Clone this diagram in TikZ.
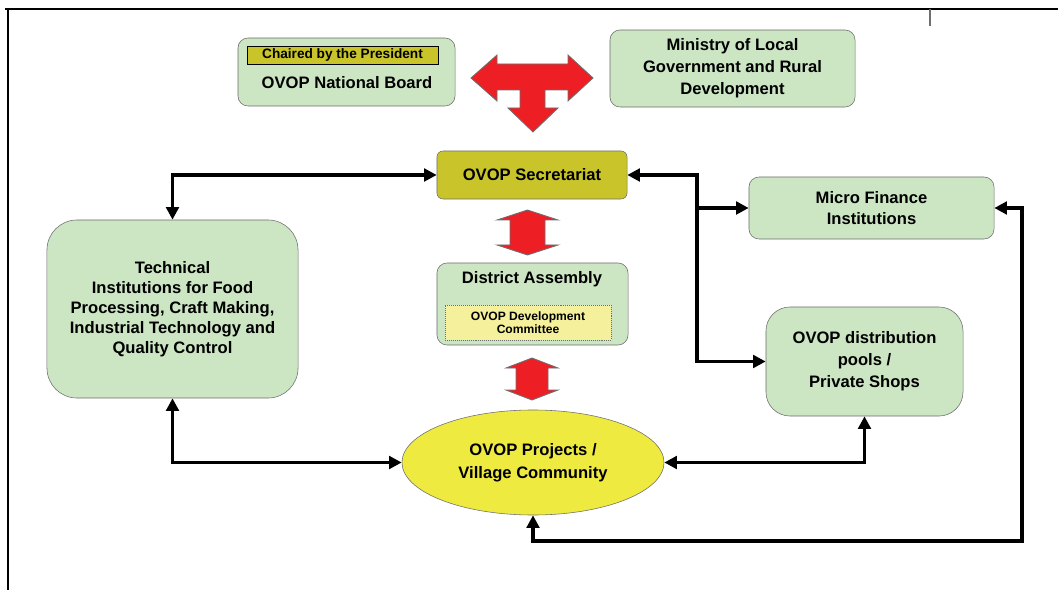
\documentclass[tikz,border=0pt]{standalone}
\usepackage{fontspec}
\setmainfont{Liberation Sans}
\usetikzlibrary{arrows.meta,shapes.geometric}

\definecolor{boxgreen}{RGB}{204,230,196}
\definecolor{boxline}{RGB}{110,110,110}
\definecolor{olive}{RGB}{200,196,42}
\definecolor{projyellow}{RGB}{238,234,64}
\definecolor{paleyellow}{RGB}{245,240,155}
\definecolor{blockred}{RGB}{237,30,36}

\tikzset{
  greenbox/.style={draw=boxline, fill=boxgreen, rounded corners=0.25cm, align=center,
    font=\fontsize{11.8}{15.5}\selectfont\bfseries},
  conn/.style={line width=2.8pt, {Triangle[length=9pt,width=9pt]}-{Triangle[length=9pt,width=9pt]}},
  oneway/.style={line width=2.8pt, -{Triangle[length=9pt,width=9pt]}},
  redarrow/.style={fill=blockred, draw=boxline, line width=0.6pt, line join=miter},
}

\begin{document}
\begin{tikzpicture}[x=0.025cm, y=-0.025cm]
  \useasboundingbox (0,0) rectangle (1058,590);
  % page frame
  \draw[line width=2pt] (5,9) -- (1058,9);
  \draw[line width=1pt] (8,9) -- (8,590);
  \draw[line width=0.8pt, boxline] (930,9) -- (930,26);

  % top row
  \node[greenbox, minimum width=5.425cm, minimum height=1.7cm] (board) at (346.5,72) {};
  \node[draw, fill=olive, minimum width=4.775cm, minimum height=0.45cm, inner sep=0pt,
    font=\fontsize{9.7}{11}\selectfont\bfseries] (chair) at (342.5,55) {Chaired by the President};
  \node[font=\fontsize{11.8}{14}\selectfont\bfseries] (boardname) at (347,83) {OVOP National Board};
  \node[greenbox, minimum width=6.125cm, minimum height=1.925cm] (ministry) at (732.5,68.5)
    {Ministry of Local\\Government and Rural\\Development};

  % centre column
  \node[greenbox, fill=olive, rounded corners=0.15cm, minimum width=4.75cm, minimum height=1.2cm]
    (sec) at (532,175) {OVOP Secretariat};
  \node[greenbox, minimum width=4.775cm, minimum height=2.05cm] (district) at (532.5,304) {};
  \node[font=\fontsize{11.8}{14}\selectfont\bfseries] (districtname) at (532,279) {District Assembly};
  \node[draw=boxline, densely dotted, fill=paleyellow, minimum width=4.15cm, minimum height=0.875cm,
    align=center, font=\fontsize{8.6}{9.4}\selectfont\bfseries] (devcom) at (528,322.5)
    {OVOP Development\\Committee};
  \node[ellipse, draw=boxline, fill=projyellow, minimum width=6.55cm, minimum height=2.625cm, align=center,
    inner sep=0pt, font=\fontsize{11.8}{16}\selectfont\bfseries] (proj) at (533,462.5)
    {OVOP Projects /\\Village Community};

  % left and right
  \node[greenbox, rounded corners=0.75cm, minimum width=6.275cm, minimum height=4.45cm,
    font=\fontsize{11.8}{14.2}\selectfont\bfseries] (tech) at (172.5,309)
    {Technical\\Institutions for Food\\Processing, Craft Making,\\Industrial Technology and\\Quality Control};
  \node[greenbox, minimum width=6.125cm, minimum height=1.55cm] (micro) at (871.5,208)
    {Micro Finance\\Institutions};
  \node[greenbox, rounded corners=0.6cm, minimum width=4.925cm, minimum height=2.725cm] (shops) at (864.5,361.5)
    {OVOP distribution\\pools /\\Private Shops};

  % red block arrows
  \draw[redarrow] (471,78) -- (497,55) -- (497,64) -- (568,64) -- (568,55) -- (593,78)
    -- (568,101) -- (568,90) -- (545,90) -- (545,108) -- (558,108) -- (533,132)
    -- (508,108) -- (520,108) -- (520,90) -- (497,90) -- (497,101) -- cycle;
  \draw[redarrow] (527.5,210) -- (558,220) -- (545,220) -- (545,245) -- (558,245) -- (527.5,255)
    -- (497,245) -- (510,245) -- (510,220) -- (497,220) -- cycle;
  \draw[redarrow] (532,358) -- (558,368) -- (548,368) -- (548,390) -- (558,390) -- (532,400)
    -- (506,390) -- (516,390) -- (516,368) -- (506,368) -- cycle;

  % black connectors
  \coordinate (split) at (697,0);
  \coordinate (loop) at (1022,541);
  \draw[conn] (tech.north) |- (sec.west);
  \draw[conn] (sec.east) -| (split |- shops.west) -- (shops.west);
  \draw[oneway] (split |- micro.west) -- (micro.west);
  \draw[conn] (tech.south) |- (proj.west);
  \draw[conn] (proj.east) -| (shops.south);
  \draw[conn] (proj.south) |- (loop) |- (micro.east);
\end{tikzpicture}
\end{document}
